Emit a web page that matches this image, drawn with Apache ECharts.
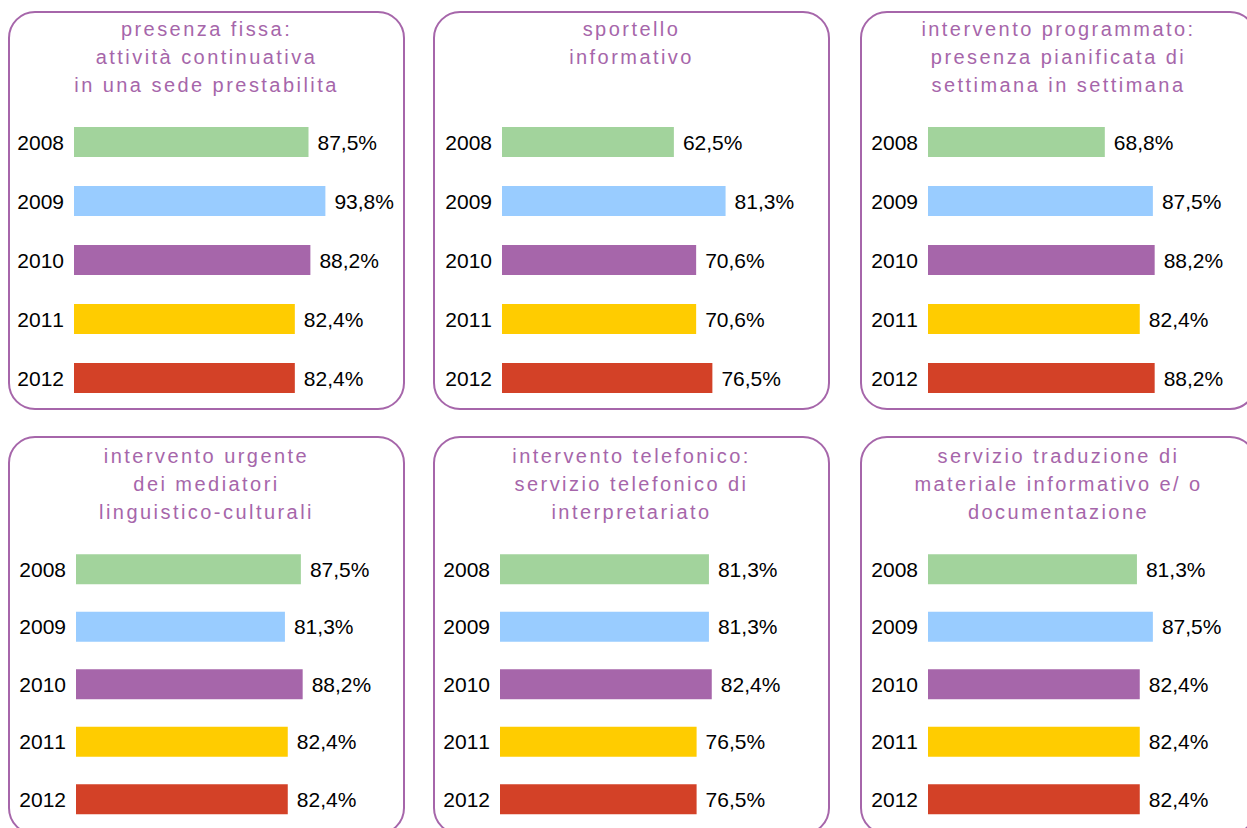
<!DOCTYPE html>
<html>
<head>
<meta charset="utf-8">
<script src="https://cdn.jsdelivr.net/npm/echarts@6/dist/echarts.min.js"></script>
<style>
    html, body { margin: 0; padding: 0; background: #fff; }
    #main { width: 1247px; height: 828px; }
    #main svg text { font-kerning: none !important; }
    /* i titoli del riquadro sono spaziati */
    #main svg text[fill="#a666aa"],
    #main svg text[fill="rgb(166,102,170)"] { letter-spacing: 2.45px; }
</style>
</head>
<body>
<div id="main"></div>
<script>
// anni e colori
const years = ['2008', '2009', '2010', '2011', '2012'];
const yearColors = ['#a2d39c', '#99ccff', '#a666aa', '#ffcc00', '#d34127'];

// titoli dei riquadri
const titles = [
    'presenza fissa:\nattività continuativa\nin una sede prestabilita',
    'sportello\ninformativo',
    'intervento programmato:\npresenza pianificata di\nsettimana in settimana',
    'intervento urgente\ndei mediatori\nlinguistico-culturali',
    'intervento telefonico:\nservizio telefonico di\ninterpretariato',
    'servizio traduzione di\nmateriale informativo e/ o\ndocumentazione',
];

// percentuali per anno
const fissa = [87.5, 93.8, 88.2, 82.4, 82.4];
const sportello = [62.5, 81.3, 70.6, 70.6, 76.5];
const programmato = [68.8, 87.5, 88.2, 82.4, 88.2];
const urgente = [87.5, 81.3, 88.2, 82.4, 82.4];
const telefonico = [81.3, 81.3, 82.4, 76.5, 76.5];
const traduzione = [81.3, 87.5, 82.4, 82.4, 82.4];

const seriesValues = [fissa, sportello, programmato, urgente, telefonico, traduzione];

// posizione dei riquadri (bordo) e delle griglie
const boxes = [
    { x: 9, y: 12 }, { x: 434, y: 12 }, { x: 861, y: 12 },
    { x: 9, y: 437 }, { x: 434, y: 437 }, { x: 861, y: 437 },
];
const grids = [
    { left: 74, top: 112.5, width: 268 },
    { left: 502, top: 112.5, width: 275 },
    { left: 928, top: 112.5, width: 257 },
    { left: 76, top: 540.5, width: 257 },
    { left: 500, top: 540.5, width: 257 },
    { left: 928, top: 540.5, width: 257 },
];

const purple = '#a666aa';
const font = 'Liberation Sans, Arial, sans-serif';

const chart = echarts.init(document.getElementById('main'), null, { renderer: 'svg' });

chart.setOption({
    animation: false,
    backgroundColor: '#fff',
    title: titles.map((t, i) => ({
        text: t,
        left: boxes[i].x + 197.5,
        top: boxes[i].y + (i < 3 ? 3 : 5),
        textAlign: 'center',
        padding: 0,
        textStyle: {
            fontFamily: font,
            fontSize: 20,
            fontWeight: 'normal',
            color: purple,
            lineHeight: 28,
        },
    })),
    graphic: boxes.map((b) => ({
        type: 'rect',
        z: -1,
        shape: { x: b.x, y: b.y, width: 395, height: 397, r: 26 },
        style: { fill: 'none', stroke: purple, lineWidth: 2 },
    })),
    grid: grids.map((g) => ({
        left: g.left,
        top: g.top,
        width: g.width,
        height: 295,
        containLabel: false,
    })),
    xAxis: grids.map((g, i) => ({
        type: 'value',
        gridIndex: i,
        min: 0,
        max: 100,
        show: false,
        splitLine: { show: false },
    })),
    yAxis: grids.map((g, i) => ({
        type: 'category',
        gridIndex: i,
        data: years,
        inverse: true,
        axisLine: { show: false },
        axisTick: { show: false },
        axisLabel: {
            margin: 10,
            fontFamily: font,
            fontSize: 21,
            color: '#000',
            padding: [4, 0, 0, 0],
        },
    })),
    series: seriesValues.map((vals, i) => ({
        type: 'bar',
        xAxisIndex: i,
        yAxisIndex: i,
        barWidth: 30,
        data: vals.map((v, k) => ({ value: v, itemStyle: { color: yearColors[k] } })),
        label: {
            show: true,
            position: 'right',
            distance: 9,
            fontFamily: font,
            fontSize: 21,
            color: '#000',
            padding: [3, 0, 0, 0],
            formatter: (p) => p.value.toFixed(1).replace('.', ',') + '%',
        },
    })),
});
</script>
</body>
</html>
